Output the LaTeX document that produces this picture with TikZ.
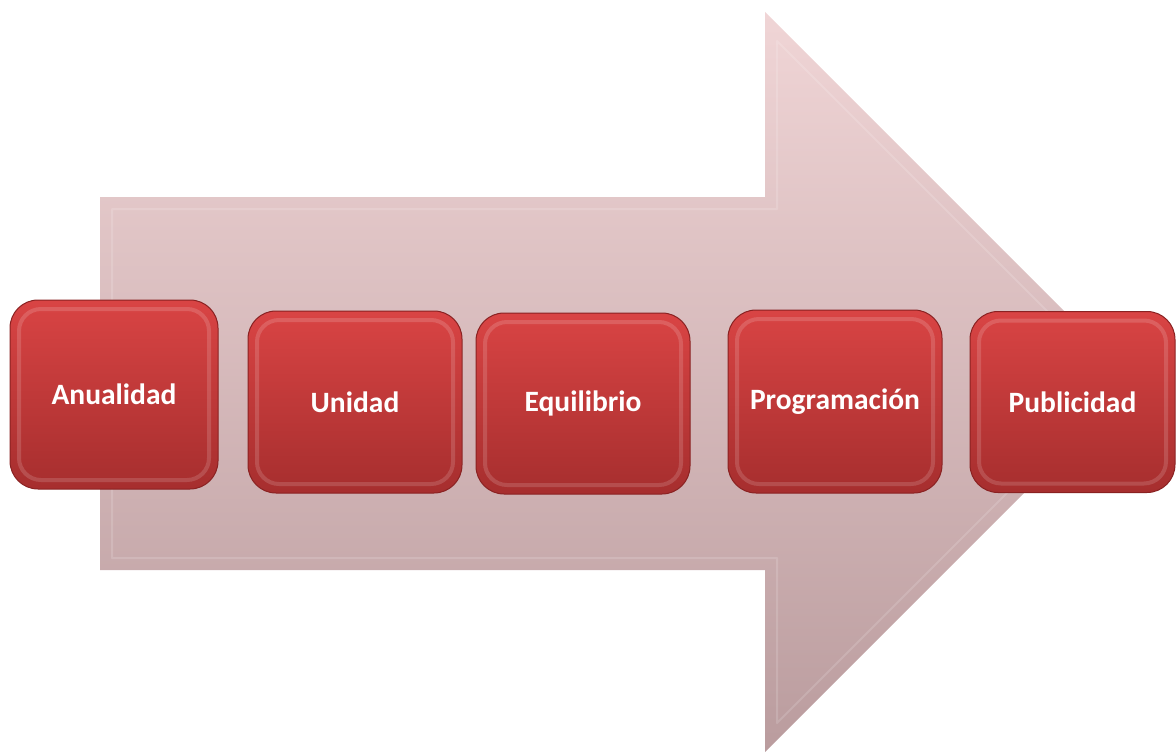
\documentclass[tikz,border=0pt]{standalone}
\usepackage{fontspec}
\setmainfont{Carlito}
\definecolor{arrowtop}{HTML}{F0D5D6}
\definecolor{arrowbot}{HTML}{BA9C9E}
\definecolor{boxtop}{HTML}{D94444}
\definecolor{boxbot}{HTML}{A62E2E}
\definecolor{boxedge}{HTML}{8A2222}
\tikzset{% 
    stepbox/.style={%
        draw=boxedge, line width=1pt, rounded corners=28pt,
        top color=boxtop, bottom color=boxbot,
        inner sep=0pt, text=white,
        font=\fontsize{29.5}{34}\selectfont\bfseries,
        minimum width=#1,
        path picture={
            \draw[white, opacity=0.15, line width=4pt, rounded corners=22pt]
                ([shift={(9pt,-9pt)}]path picture bounding box.north west)
                rectangle ([shift={(-9pt,9pt)}]path picture bounding box.south east);
        }
    }
}

\begin{document}
\begin{tikzpicture}[x=1pt, y=-1pt]
\useasboundingbox (0,0) rectangle (1176,752);
% big arrow
\shade[top color=arrowtop, bottom color=arrowbot]
(100,197) -- (765,197) -- (765,12) -- (1135,382)
  -- (765,752) -- (765,570) -- (100,570) -- cycle;
\draw[white, opacity=0.15, line width=2pt, line join=round]
(112,209) -- (777,209) -- (777,41) -- (1118,382)
  -- (777,723) -- (777,558) -- (112,558) -- cycle;
% steps
\node[stepbox=208pt, minimum height=189pt] (anualidad) at (114,394.5) {Anualidad};
\node[stepbox=214pt, minimum height=182pt] (unidad) at (355,402) {Unidad};
\node[stepbox=214pt, minimum height=181pt] (equilibrio) at (583,403.5) {Equilibrio};
\node[stepbox=214pt, minimum height=183pt] (programacion) at (835,401.5) {Programación};
\node[stepbox=205pt, minimum height=181pt] (publicidad) at (1072.5,402) {Publicidad};
\end{tikzpicture}
\end{document}
